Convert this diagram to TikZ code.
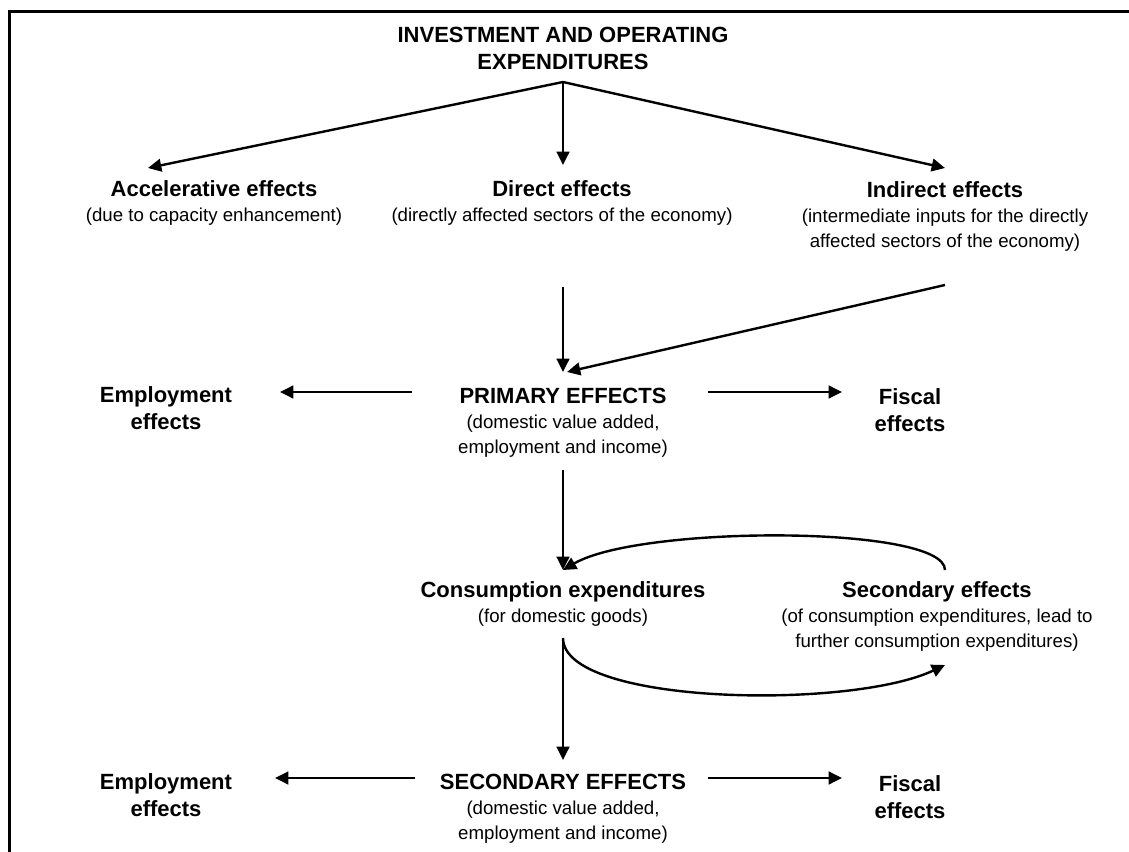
\documentclass[tikz,border=0pt]{standalone}
\usepackage{fontspec}
\setmainfont{Liberation Sans}
\usetikzlibrary{arrows.meta}
\newcommand{\hd}[1]{{\bfseries\fontsize{16.5}{20}\selectfont #1}}
\tikzset{
  every node/.style={inner sep=0pt, align=center, font=\fontsize{14}{18.75}\selectfont},
  head/.style={font=\bfseries\fontsize{16.5}{20.25}\selectfont},
  link/.style={line width=1.8pt, -{Triangle[length=10pt,width=9.5pt]}},
}

\begin{document}
\begin{tikzpicture}[x=0.75pt,y=-0.75pt]
  \useasboundingbox (0,0) rectangle (1129,852);
  \draw[line width=2.25pt] (9,852) -- (9,12) -- (1129,12);

  \node[head] (invest) at (563,48.5) {INVESTMENT AND OPERATING\\EXPENDITURES};
  \node (accel) at (214,203) {\hd{Accelerative effects}\\(due to capacity enhancement)};
  \node (direct) at (562,203) {\hd{Direct effects}\\(directly affected sectors of the economy)};
  \node (indirect) at (945,216) {\hd{Indirect effects}\\(intermediate inputs for the directly\\affected sectors of the economy)};
  \node (primary) at (563,423) {\hd{PRIMARY EFFECTS}\\(domestic value added,\\employment and income)};
  \node[head] (emp1) at (166,408) {Employment\\effects};
  \node[head] (fisc1) at (910,410) {Fiscal\\effects};
  \node (cons) at (563,604) {\hd{Consumption expenditures}\\(for domestic goods)};
  \node (sec) at (937,616) {\hd{Secondary effects}\\(of consumption expenditures, lead to\\further consumption expenditures)};
  \node (secondary) at (563,809) {\hd{SECONDARY EFFECTS}\\(domestic value added,\\employment and income)};
  \node[head] (emp2) at (166,795) {Employment\\effects};
  \node[head] (fisc2) at (910,797) {Fiscal\\effects};

  % spending splits three ways
  \draw[link] ([shift={(0,33.5)}]invest.center) -- ([shift={(-66,-35)}]accel.center);
  \draw[link] ([shift={(0,33.5)}]invest.center) -- ([shift={(1,-38)}]direct.center);
  \draw[link] ([shift={(0,33.5)}]invest.center) -- ([shift={(0,-48)}]indirect.center);
  \draw[link] ([shift={(1,84)}]direct.center) -- ([shift={(0,-51)}]primary.center);
  \draw[link] ([shift={(0,69)}]indirect.center) -- ([shift={(4,-51)}]primary.center);

  % primary round
  \draw[link] ([shift={(-151,-31)}]primary.center) -- ([shift={(114,-16)}]emp1.center);
  \draw[link] ([shift={(145,-31)}]primary.center) -- ([shift={(-68,-18)}]fisc1.center);
  \draw[link] ([shift={(0,47)}]primary.center) -- ([shift={(0,-34)}]cons.center);

  % feedback loop
  \draw[link] ([shift={(8,-46)}]sec.center) .. controls (945,525) and (640,525) .. ([shift={(0,-34)}]cons.center);
  \draw[link] ([shift={(0,34)}]cons.center) .. controls (563,705) and (850,710) .. ([shift={(8,49)}]sec.center);

  % secondary round
  \draw[link] ([shift={(0,34)}]cons.center) -- ([shift={(0,-49)}]secondary.center);
  \draw[link] ([shift={(-148,-31)}]secondary.center) -- ([shift={(109,-17)}]emp2.center);
  \draw[link] ([shift={(145,-31)}]secondary.center) -- ([shift={(-68,-19)}]fisc2.center);
\end{tikzpicture}
\end{document}
